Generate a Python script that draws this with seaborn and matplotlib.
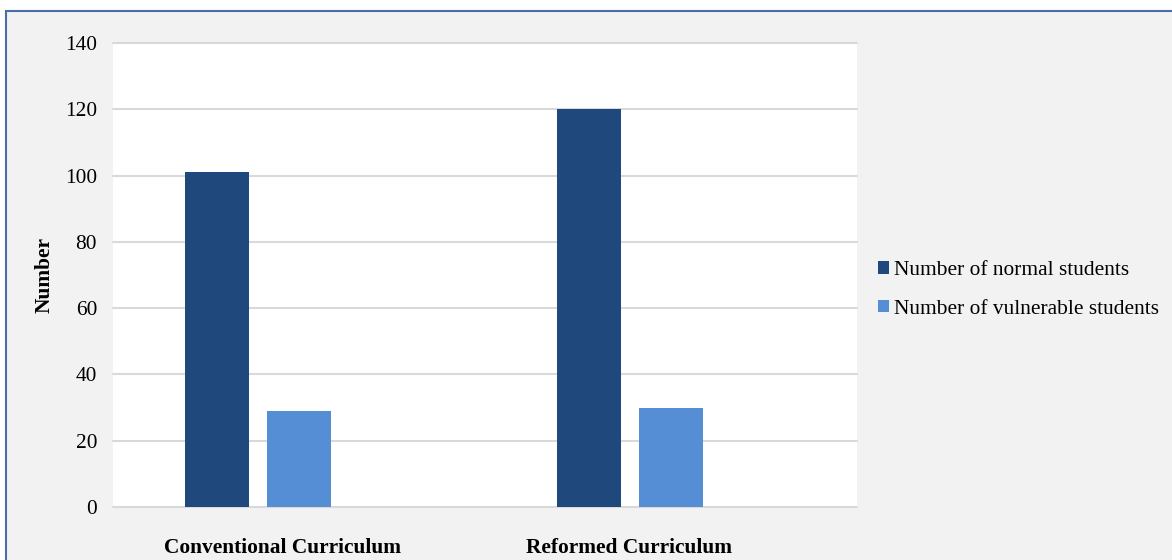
import matplotlib
matplotlib.use("Agg")
import matplotlib.pyplot as plt
from matplotlib.patches import Rectangle, Patch
from matplotlib.transforms import ScaledTranslation
import seaborn as sns
import pandas as pd

categories = ["Conventional Curriculum", "Reformed Curriculum"]
series = ["Number of normal students", "Number of vulnerable students", ""]
normal_students = [101, 120]
vulnerable_students = [29, 30]
y_ticks = [0, 20, 40, 60, 80, 100, 120, 140]

colors = {"Number of normal students": "#1f497d",
          "Number of vulnerable students": "#558ed5",
          "": "#ffffff"}

rows = []
for c, n, v in zip(categories, normal_students, vulnerable_students):
    rows.append({"category": c, "series": series[0], "value": n})
    rows.append({"category": c, "series": series[1], "value": v})
df = pd.DataFrame(rows)

sns.set_theme(style="white")
plt.rcParams["font.family"] = ["Liberation Serif", "DejaVu Serif"]
plt.rcParams["text.color"] = "black"
plt.rcParams["xtick.color"] = "black"
plt.rcParams["ytick.color"] = "black"
plt.rcParams["axes.labelcolor"] = "black"
FS = 15.4

W, H = 1172, 560
fig = plt.figure(figsize=(W / 100, H / 100), dpi=100, facecolor="white")
bg = Rectangle((6 / W, -0.05), 1.1, (H - 11) / H + 0.05, transform=fig.transFigure,
               facecolor="#f2f2f2", edgecolor="#4a6ea8", linewidth=1.5, zorder=-10)
fig.patches.append(bg)

ax = fig.add_axes([113 / W, 1 - 507 / H, (857 - 113) / W, (507 - 43) / H])
ax.set_facecolor("white")

sns.barplot(data=df, x="category", y="value", hue="series", order=categories,
            hue_order=series, palette=colors, width=0.66, gap=0.22,
            errorbar=None, ax=ax, legend=False, saturation=1,
            edgecolor="none", zorder=3)

ax.set_ylim(0, 140)
ax.set_yticks(y_ticks)
ax.set_yticklabels([str(t) for t in y_ticks], fontsize=FS)
ax.yaxis.grid(True, color="#d9d9d9", linewidth=1.5, zorder=0)
for gl in ax.yaxis.get_gridlines():
    gl.set_clip_on(False)
ax.set_axisbelow(True)
ax.tick_params(axis="both", length=0)
ax.tick_params(axis="y", pad=11.5)
ax.tick_params(axis="x", pad=22)
x_shifts_px = [-17, -42]
for lab, dx in zip(ax.get_xticklabels(), x_shifts_px):
    lab.set_fontweight("bold")
    lab.set_fontsize(FS)
    lab.set_transform(lab.get_transform() + ScaledTranslation(dx / 100, 0, fig.dpi_scale_trans))
for s in ax.spines.values():
    s.set_visible(False)
ax.set_xlabel("")
ax.set_ylabel("Number", fontsize=FS, fontweight="bold")
ax.yaxis.set_label_coords(-0.078, 0.5)

handles = [Patch(facecolor=colors[s], edgecolor="none") for s in series[:2]]
fig.legend(handles, series[:2], loc="center left",
           bbox_to_anchor=(859 / W, 1 - 290 / H), frameon=False,
           fontsize=FS, handlelength=0.52, handleheight=0.52,
           handletextpad=0.2, labelspacing=0.92)

fig.savefig("out.png", dpi=100, facecolor=fig.get_facecolor())
